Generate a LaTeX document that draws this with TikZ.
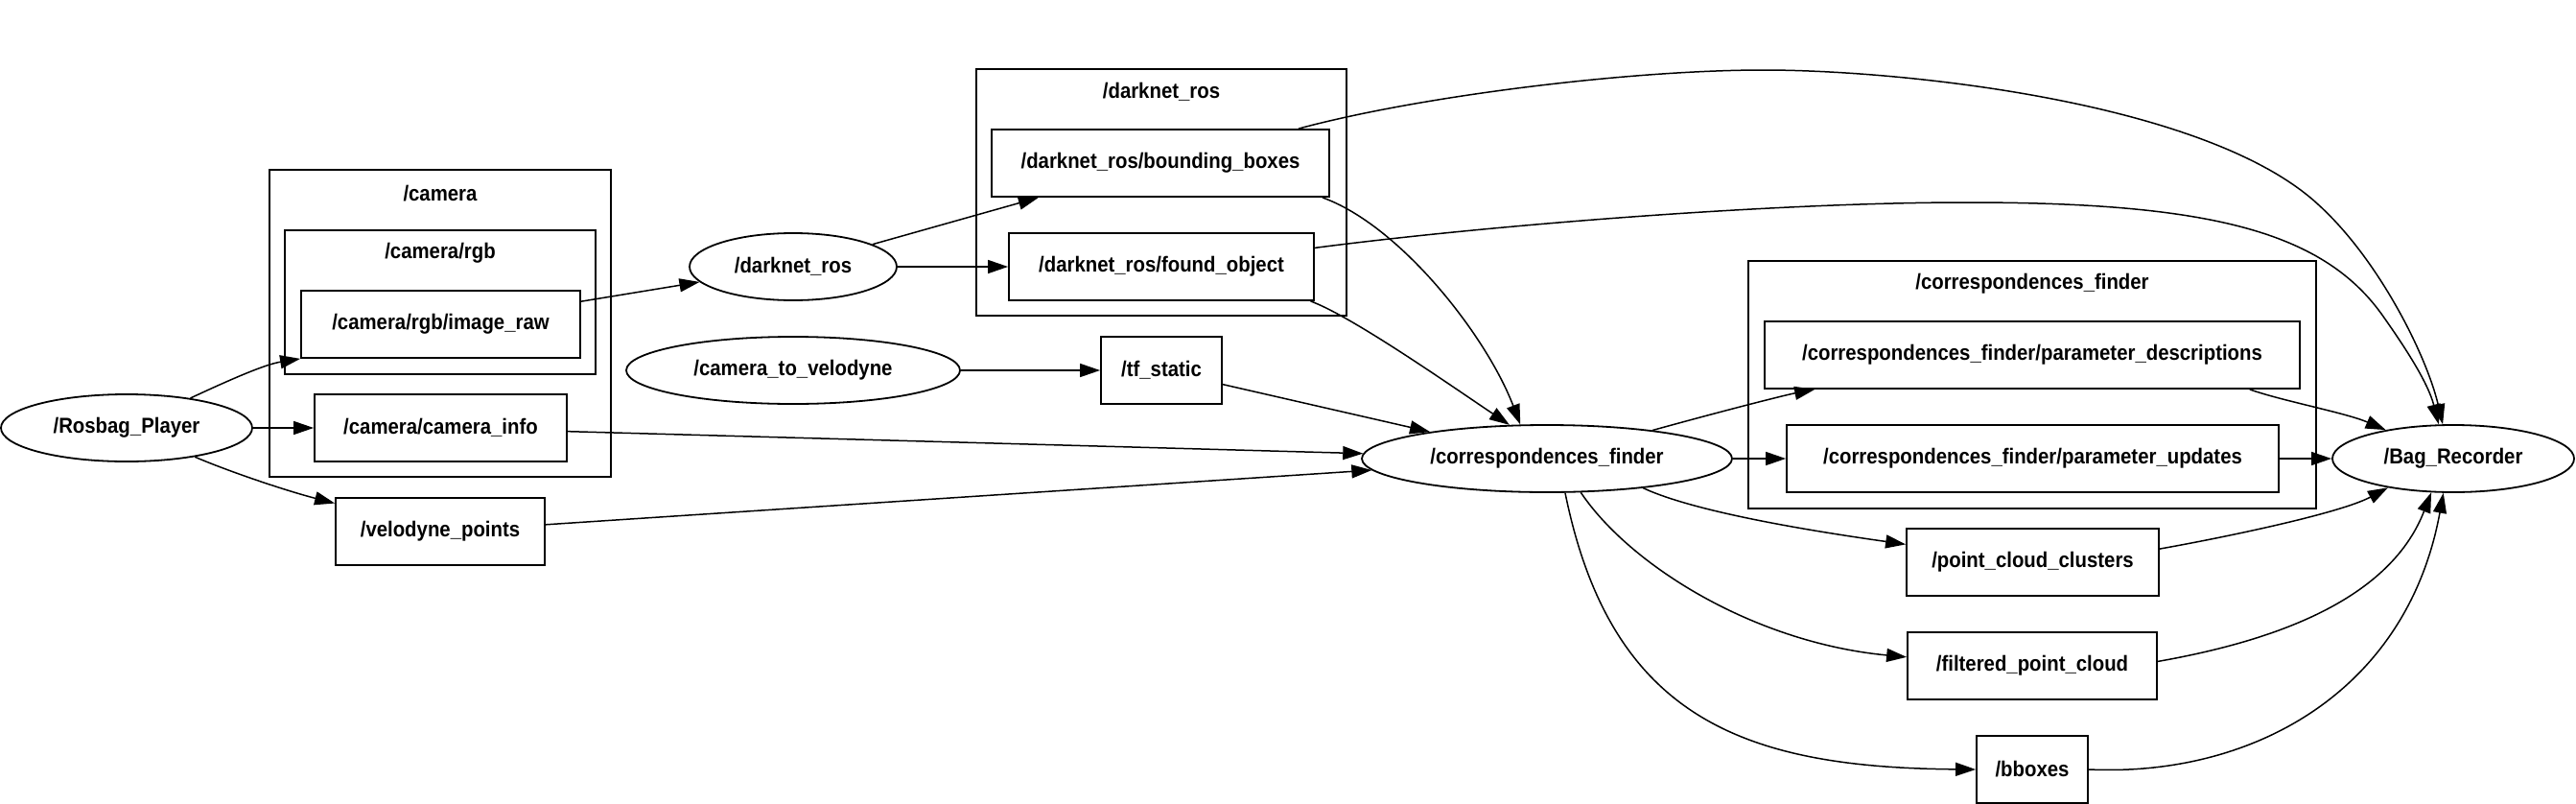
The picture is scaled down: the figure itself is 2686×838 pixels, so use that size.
\documentclass[tikz,border=0pt]{standalone}
\usepackage{fontspec}
\setmainfont{Liberation Sans}
\newfontfamily\lblfont{Liberation Sans Bold}[FakeStretch=0.905]
\usetikzlibrary{arrows.meta,shapes.geometric}
\begin{document}
\begin{tikzpicture}[x=1pt,y=-1pt,
  every node/.style={font=\lblfont\fontsize{22.5pt}{26pt}\selectfont, inner sep=0pt},
  ell/.style={draw, ellipse, line width=1.8pt, minimum height=70pt},
  topic/.style={draw, rectangle, line width=1.8pt, minimum height=70pt},
  clu/.style={draw, rectangle, line width=1.8pt},
  edge/.style={line width=1.5pt, -{Triangle[length=21pt,width=14pt]}}
]
\fill[white] (0,0) rectangle (2686,838);
\useasboundingbox (0,0) rectangle (2686,838);

% clusters
\node[clu, minimum width=356pt, minimum height=320pt] (camclu) at (459,337) {};
\node (camtitle) at (459,202) {/camera};
\node[clu, minimum width=324pt, minimum height=150pt] (rgbclu) at (459,315) {};
\node (rgbtitle) at (459,264) {/camera/rgb};
\node[clu, minimum width=386pt, minimum height=257pt] (dnclu) at (1211,200.5) {};
\node (dntitle) at (1211,96) {/darknet\_ros};
\node[clu, minimum width=592pt, minimum height=258pt] (cfclu) at (2119,401) {};
\node (cftitle) at (2119,296) {/correspondences\_finder};

% nodes
\node[ell, minimum width=262pt] (rosbag) at (132,446) {/Rosbag\_Player};
\node[topic, minimum width=291pt] (imgraw) at (459.5,338) {/camera/rgb/image\_raw};
\node[topic, minimum width=263pt] (caminfo) at (459.5,446) {/camera/camera\_info};
\node[topic, minimum width=218pt] (velo) at (459,554) {/velodyne\_points};
\node[ell, minimum width=216pt] (darknet) at (827,278) {/darknet\_ros};
\node[ell, minimum width=348pt] (c2v) at (827,386) {/camera\_to\_velodyne};
\node[topic, minimum width=352pt] (bb) at (1210,170) {/darknet\_ros/bounding\_boxes};
\node[topic, minimum width=318pt] (fo) at (1211,278) {/darknet\_ros/found\_object};
\node[topic, minimum width=126pt] (tf) at (1211,386) {/tf\_static};
\node[ell, minimum width=386pt] (corr) at (1613,478) {/correspondences\_finder};
\node[topic, minimum width=558pt] (pd) at (2119,370) {/correspondences\_finder/parameter\_descriptions};
\node[topic, minimum width=513pt] (pu) at (2119.5,478) {/correspondences\_finder/parameter\_updates};
\node[topic, minimum width=263pt] (pcc) at (2119.5,586) {/point\_cloud\_clusters};
\node[topic, minimum width=260pt] (fpc) at (2119,694) {/filtered\_point\_cloud};
\node[topic, minimum width=116pt] (bbx) at (2119,802) {/bboxes};
\node[ell, minimum width=252pt] (bag) at (2558,478) {/Bag\_Recorder};

% edges
\draw[edge] (rosbag.25) .. controls (235,398) and (275,380) .. (imgraw.south west);
\draw[edge] (rosbag) -- (caminfo);
\draw[edge] (rosbag.-23) .. controls (240,492) and (300,512) .. (velo.165.6);
\draw[edge] (imgraw) -- (darknet);
\draw[edge] (darknet) -- (bb);
\draw[edge] (darknet) -- (fo);
\draw[edge] (c2v) -- (tf);
\draw[edge] (tf) -- (corr);
\draw[edge] (caminfo) -- (corr);
\draw[edge] (velo) -- (corr);
\draw[edge] (bb.-12.3) .. controls (1460,235) and (1550,350) .. (corr.128.3);
\draw[edge] (fo.-13.4) .. controls (1410,330) and (1510,400) .. (corr.138.7);
\draw[edge] (corr.15.1) .. controls (1790,430) and (1860,412) .. (pd.189.2);
\draw[edge] (pd.-9) .. controls (2380,418) and (2445,430) .. (bag.157.7);
\draw[edge] (corr) -- (pu);
\draw[edge] (pu) -- (bag);
\draw[edge] (corr.-17.4) .. controls (1770,535) and (1900,555) .. (pcc.172.6);
\draw[edge] (pcc.6.5) .. controls (2320,560) and (2440,535) .. (bag.204.8);
\draw[edge] (corr.-45) .. controls (1700,590) and (1830,670) .. (fpc.176);
\draw[edge] (fpc.2.2) .. controls (2360,670) and (2490,630) .. (bag.237.1);
\draw[edge] (corr.-62.8) .. controls (1680,750) and (1820,800) .. (bbx.west);
\draw[edge] (bbx.east) .. controls (2350,810) and (2510,720) .. (bag.254.5);
\draw[edge] (bb.14.4) .. controls (1480,100) and (1700,73) .. (1839,73)
  .. controls (1980,73) and (2300,105) .. (2417,213)
  .. controls (2480,270) and (2530,370) .. (bag.107.4);
\draw[edge] (fo.7.6) .. controls (1550,235) and (1850,211) .. (2050,211)
  .. controls (2300,211) and (2420,240) .. (2483,327)
  .. controls (2510,365) and (2532,400) .. (bag.113.4);
\end{tikzpicture}
\end{document}
